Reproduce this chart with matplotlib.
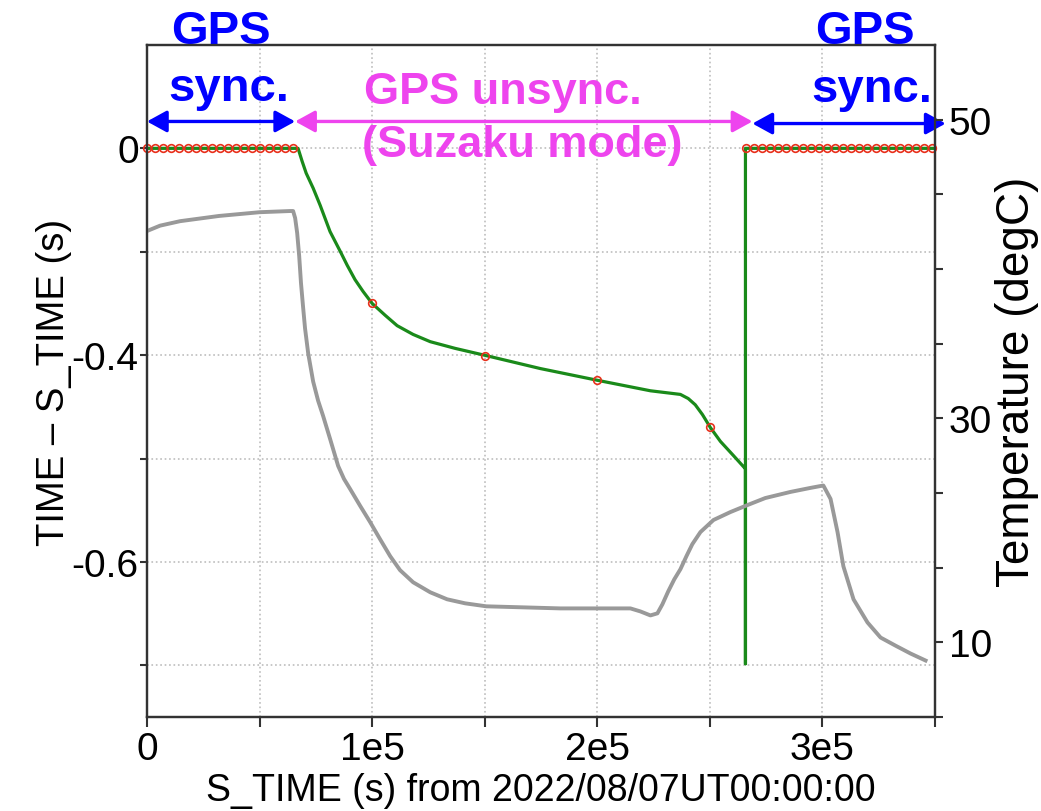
import matplotlib
matplotlib.use('Agg')
import matplotlib.pyplot as plt
import numpy as np

plt.rcParams['font.family'] = ['Liberation Sans', 'DejaVu Sans']

# TIME - S_TIME (s), green curve during the GPS unsync. period
drift_t = [0, 64800, 67100, 68900, 70700, 73800, 76900, 81300, 85800, 88900,
           92400, 96000, 100000, 105800, 111100, 118200, 125800, 136900,
           150700, 174700, 200400, 223600, 236900, 240400, 243500, 246700,
           250200, 254700, 260400, 265800, 265800, 265800, 350000]
drift_v = [0, 0, 0, -0.025, -0.048, -0.077, -0.110, -0.161, -0.199, -0.226,
           -0.254, -0.277, -0.300, -0.323, -0.343, -0.360, -0.374, -0.387,
           -0.401, -0.426, -0.449, -0.469, -0.476, -0.484, -0.496, -0.515,
           -0.540, -0.567, -0.594, -0.620, -0.997, 0, 0]

# sampled points (red circles)
sync_t_left = np.arange(0, 66000, 3600)
sync_t_right = np.arange(266000, 350001, 3600)
unsync_t = [100000, 150000, 200000, 250000]
unsync_v = [-0.300, -0.401, -0.449, -0.540]

# temperature (degC), gray curve
temp_t = [0, 5800, 14700, 32000, 50000, 63600, 64900, 65800, 66700, 67600,
          68400, 69300, 70200, 71600, 73800, 76000, 78200, 81300, 84900,
          87500, 90200, 94700, 99100, 103500, 108000, 112400, 118200, 125800,
          133300, 141300, 150700, 183600, 214700, 219100, 223600, 226700,
          228900, 231500, 234200, 236900, 239600, 242200, 245800, 251600,
          259100, 266700, 274600, 285800, 294700, 300400, 303600, 306700,
          309300, 313800, 320000, 325800, 332400, 339100, 345800]
temp_v = [42.54, 42.9, 43.2, 43.55, 43.8, 43.88, 43.88, 43.41, 42.41, 40.86,
          39.05, 37.50, 36.02, 34.34, 32.46, 31.18, 30.17, 28.63, 26.81,
          25.94, 25.27, 24.13, 23.05, 21.91, 20.77, 19.83, 19.02, 18.35,
          17.88, 17.61, 17.41, 17.27, 17.27, 17.07, 16.80, 16.94,
          17.54, 18.41, 19.22, 19.89, 20.77, 21.57, 22.38, 23.19,
          23.72, 24.19, 24.66, 25.07, 25.34, 25.50, 24.60, 22.38,
          20.09, 17.88, 16.33, 15.32, 14.78, 14.25, 13.78]

x_ticks = np.arange(0, 350001, 50000)
x_labels = ['0', '', '1e5', '', '2e5', '', '3e5', '']
y_ticks = [0, -0.2, -0.4, -0.6, -0.8, -1.0]
y_labels = ['0', '', '-0.4', '', '-0.6', '']
t_ticks = [10, 15, 20, 25, 30, 35, 40, 45, 50]
t_labels = ['', '10', '', '', '30', '', '', '', '50']

# periods: (start, end, colour, y)
periods = [(0, 65800, 'blue', 0.052), (65800, 268900, '#ee44ee', 0.052),
           (268900, 354700, 'blue', 0.048)]

fig = plt.figure(figsize=(10.41, 8.12), dpi=100)
ax = fig.add_axes([0.1412, 0.1158, 0.757, 0.8276])

ax.plot(drift_t, drift_v, color='#1a8a1a', lw=2.3, zorder=3)
mk_t = np.concatenate([sync_t_left, unsync_t, sync_t_right])
mk_v = np.concatenate([np.zeros(len(sync_t_left)), unsync_v, np.zeros(len(sync_t_right))])
ax.plot(mk_t, mk_v, ls='none', marker='o', ms=5.5, mfc='none', mec='#e8301c',
        mew=1.2, zorder=4, clip_on=False)

ax.set_xlim(0, 350000)
ax.set_ylim(-1.1, 0.2)
ax.set_xticks(x_ticks)
ax.set_xticklabels(x_labels)
ax.set_yticks(y_ticks)
ax.set_yticklabels(y_labels)
ax.grid(True, ls=':', color='#bdbdbd', lw=1.2)
ax.tick_params(labelsize=28, width=1.5, color='#333333')
ax.tick_params(axis='x', length=7, pad=3)
ax.tick_params(axis='y', length=5, pad=1)
for s in ax.spines.values():
    s.set_linewidth(1.6)
    s.set_color('#333333')
ax.set_xlabel('S_TIME (s) from 2022/08/07UT00:00:00', fontsize=27, labelpad=4)
ax.set_ylabel('TIME – S_TIME (s)', fontsize=27.5, labelpad=0)

ax2 = ax.twinx()
ax2.plot(temp_t, temp_v, color='#999999', lw=2.8)
ax2.set_ylim(10, 55)
ax2.set_yticks(t_ticks)
ax2.set_yticklabels(t_labels)
ax2.tick_params(labelsize=28, length=6, width=1.5, pad=4, color='#333333')
for s in ax2.spines.values():
    s.set_linewidth(1.6)
    s.set_color('#333333')
ax2.set_ylabel('Temperature (degC)', fontsize=33, labelpad=2)

for t0, t1, col, y in periods:
    ax.annotate('', xy=(t1, y), xytext=(t0, y), annotation_clip=False,
                arrowprops=dict(arrowstyle='<|-|>,head_length=0.6,head_width=0.33',
                                mutation_scale=20, color=col, lw=2.4,
                                shrinkA=0, shrinkB=0), zorder=6)

blue = dict(fontsize=34, fontweight='bold', ha='center', va='baseline',
            color='blue', clip_on=False)
pink = dict(fontsize=32.5, fontweight='bold', ha='center', va='baseline',
            color='#ee44ee', clip_on=False)
ax.text(33000, 0.204, 'GPS', **blue)
ax.text(36500, 0.093, 'sync.', **blue)
ax.text(319000, 0.204, 'GPS', **blue)
ax.text(322000, 0.091, 'sync.', **blue)
ax.text(158000, 0.087, 'GPS unsync.', **pink)
ax.text(166500, -0.014, '(Suzaku mode)', **pink)

fig.savefig('out.png', dpi=100)
